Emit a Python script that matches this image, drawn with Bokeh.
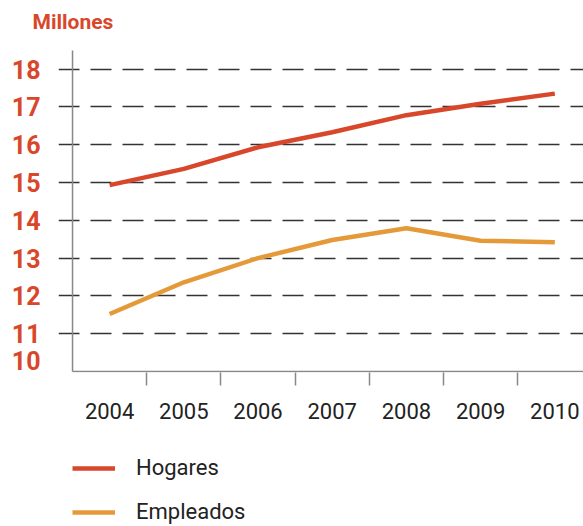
from bokeh.plotting import figure
from bokeh.layouts import column
from bokeh.models import (FixedTicker, Range1d, Legend, LegendItem, Title,
                          PrintfTickFormatter)
from bokeh.embed import file_html
from bokeh.resources import INLINE

years = [2004, 2005, 2006, 2007, 2008, 2009, 2010]
hogares = [14.93, 15.36, 15.93, 16.33, 16.78, 17.08, 17.35]
empleados = [11.52, 12.36, 13.00, 13.48, 13.79, 13.46, 13.42]
y_ticks = [11, 12, 13, 14, 15, 16, 17, 18]
y_min = 10
y_axis_top = 18.49
title_text = "Millones"
series_names = ["Hogares", "Empleados"]

RED = "#d9472b"
ORANGE = "#e59a3a"
FONT = "Roboto"
AXIS = "#888888"

x0 = years[0] - 0.5 - 0.189
p = figure(frame_width=525, frame_height=339, output_backend="svg", toolbar_location=None,
           x_range=Range1d(x0, x0 + 525 / 74.2),
           y_range=Range1d(9.974, 18.94),
           min_border_left=58, min_border_right=0, min_border_top=33,
           min_border_bottom=68)
p.outline_line_color = None
p.background_fill_color = "white"
p.border_fill_color = "white"

p.title = Title(text=title_text, text_color=RED, text_font=FONT,
                text_font_size="21px", text_font_style="bold",
                offset=-26, standoff=0)

# x axis: labels at years, ticks between categories
p.xaxis.ticker = FixedTicker(ticks=years, minor_ticks=[y + 0.5 for y in years[:-1]])
p.xaxis.major_tick_line_color = None
p.xaxis.minor_tick_out = 13
p.xaxis.minor_tick_in = 0
p.xaxis.minor_tick_line_color = AXIS
p.xaxis.minor_tick_line_width = 1.5
p.xaxis.axis_line_color = None
p.xaxis.major_label_text_font = FONT
p.xaxis.major_label_text_font_size = "22px"
p.xaxis.major_label_text_color = "#222222"
p.xaxis.major_label_standoff = 17

# y axis: labels only (the "10" label sits a little above the baseline)
p.yaxis.ticker = FixedTicker(ticks=[y_min + 0.29] + y_ticks)
p.yaxis.formatter = PrintfTickFormatter(format="%d")
p.yaxis.major_tick_line_color = None
p.yaxis.major_tick_out = 0
p.yaxis.major_tick_in = 0
p.yaxis.axis_line_color = None
p.yaxis.minor_tick_line_color = None
p.yaxis.major_label_text_font = FONT
p.yaxis.major_label_text_font_size = "25px"
p.yaxis.major_label_text_font_style = "bold"
p.yaxis.major_label_text_color = RED
p.yaxis.major_label_standoff = 18

p.xgrid.grid_line_color = None
p.ygrid.ticker = FixedTicker(ticks=y_ticks)
p.ygrid.grid_line_color = "#333333"
p.ygrid.grid_line_width = 1.5
p.ygrid.grid_line_dash = "21 11"

# axis lines
p.segment(x0=[years[0] - 0.5, years[0] - 0.5], y0=[y_min, y_min],
          x1=[years[0] - 0.5, years[-1] + 0.5], y1=[y_axis_top, y_min],
          line_color=AXIS, line_width=1.5)

p.line(years, hogares, line_color=RED, line_width=4.5)
p.line(years, empleados, line_color=ORANGE, line_width=4.5)

# legend figure
q = figure(frame_width=525, frame_height=86, output_backend="svg", toolbar_location=None,
           x_range=Range1d(0, 1), y_range=Range1d(0, 1),
           x_axis_location=None, y_axis_location=None,
           min_border_left=58, min_border_right=0, min_border_top=0, min_border_bottom=0)
q.outline_line_color = None
q.grid.visible = False
q.border_fill_color = "white"
l1 = q.line(years, hogares, line_color=RED, line_width=4.5)
l2 = q.line(years, empleados, line_color=ORANGE, line_width=4.5)
legend = Legend(items=[LegendItem(label=series_names[0], renderers=[l1]),
                       LegendItem(label=series_names[1], renderers=[l2])],
                location=(14, 2), orientation="vertical",
                glyph_width=43, glyph_height=24, spacing=19, label_standoff=21,
                label_text_font=FONT, label_text_font_size="22px",
                label_text_color="#222222", border_line_color=None,
                background_fill_alpha=0, padding=0, margin=0)
q.add_layout(legend)

layout = column(p, q, spacing=0)
open("out.html", "w").write(file_html(layout, INLINE))
